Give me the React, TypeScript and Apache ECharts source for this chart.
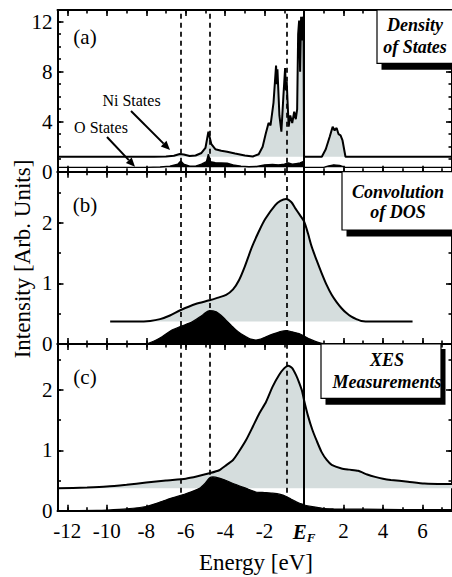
import React, { useEffect, useRef } from 'react';
import * as echarts from 'echarts';

const FONT = 'Liberation Serif';
const GRAY = '#d5dddd';

const X_MIN = -12.5;
const X_MAX = 7.5;

// Panel (a): density of states (Ni offset baseline, O baseline)
const niBase = 1.2;
const niStates: [number, number][] = [
  [-12.5, 1.2], [-7.6, 1.2], [-7.0, 1.22], [-6.6, 1.28], [-6.3, 1.42], [-6.1, 1.38], [-5.8, 1.25],
  [-5.5, 1.3], [-5.2, 1.5], [-5.0, 1.9], [-4.85, 3.2], [-4.7, 2.2], [-4.5, 1.8], [-4.2, 1.68],
  [-3.9, 1.6], [-3.5, 1.45], [-3.0, 1.3], [-2.6, 1.22], [-2.3, 1.4], [-2.1, 2.0], [-1.95, 3.0],
  [-1.8, 3.9], [-1.7, 3.7], [-1.55, 5.5], [-1.42, 8.5], [-1.38, 7.0], [-1.35, 8.2], [-1.25, 4.5], [-1.15, 3.2],
  [-1.05, 6.0], [-0.96, 8.3], [-0.92, 6.5], [-0.88, 7.2], [-0.78, 3.6], [-0.7, 4.5], [-0.6, 3.9], [-0.5, 4.8],
  [-0.42, 4.2], [-0.35, 5.0], [-0.3, 11.0], [-0.25, 12.1], [-0.2, 8.0], [-0.15, 12.4], [-0.1, 10.5], [-0.08, 12.4],
  [-0.03, 12.0], [0.0, 1.2], [0.9, 1.2], [1.1, 1.8], [1.3, 2.8], [1.45, 3.6], [1.55, 3.3],
  [1.65, 3.5], [1.75, 3.0], [1.85, 2.9], [1.95, 2.5], [2.1, 1.2], [7.5, 1.2],
];
const oBase = 0.35;
const oStates: [number, number][] = [
  [-12.5, 0.35], [-8.0, 0.35], [-7.3, 0.38], [-6.8, 0.45], [-6.4, 0.6], [-6.25, 0.85], [-6.1, 0.6],
  [-5.8, 0.45], [-5.5, 0.45], [-5.2, 0.6], [-4.95, 0.8], [-4.85, 1.4], [-4.75, 0.8], [-4.5, 0.72],
  [-4.2, 0.7], [-3.9, 0.68], [-3.6, 0.55], [-3.2, 0.45], [-2.8, 0.4], [-2.4, 0.42], [-2.0, 0.55],
  [-1.6, 0.58], [-1.3, 0.55], [-1.0, 0.6], [-0.8, 0.7], [-0.6, 0.6], [-0.4, 0.65], [-0.2, 0.7],
  [-0.05, 0.8], [0.0, 0.35], [1.0, 0.35], [1.2, 0.45], [1.5, 0.55], [1.8, 0.5], [2.1, 0.35], [7.5, 0.35],
];

// Panel (b): convolution of DOS
const convBase = 0.37;
const convTotal: [number, number][] = [
  [-9.83, 0.37], [-8.5, 0.37], [-7.8, 0.38], [-7.3, 0.41], [-6.8, 0.47], [-6.25, 0.56], [-5.5, 0.66],
  [-4.8, 0.72], [-4.4, 0.76], [-3.95, 0.81], [-3.6, 0.9], [-3.3, 1.05], [-3.0, 1.28], [-2.64, 1.6],
  [-2.3, 1.85], [-1.97, 2.06], [-1.46, 2.29], [-1.2, 2.36], [-0.91, 2.39], [-0.65, 2.34], [-0.45, 2.24],
  [-0.2, 2.12], [0, 2.02], [0.2, 1.82], [0.39, 1.6], [0.65, 1.37], [0.89, 1.17], [1.15, 0.97],
  [1.4, 0.81], [1.65, 0.69], [1.9, 0.59], [2.15, 0.51], [2.4, 0.45], [2.65, 0.41], [2.9, 0.38],
  [3.4, 0.37], [5.5, 0.37],
];
const convO: [number, number][] = [
  [-8.0, 0], [-7.6, 0.05], [-7.2, 0.12], [-6.7, 0.23], [-6.25, 0.29], [-5.65, 0.37], [-5.14, 0.48],
  [-4.8, 0.55], [-4.45, 0.53], [-4.2, 0.47], [-3.95, 0.39], [-3.7, 0.31], [-3.45, 0.23], [-3.2, 0.17],
  [-2.94, 0.12], [-2.7, 0.08], [-2.44, 0.066], [-2.2, 0.08], [-1.93, 0.12], [-1.43, 0.18],
  [-1.15, 0.21], [-0.91, 0.22], [-0.6, 0.2], [-0.25, 0.17], [0, 0.13], [0.3, 0.08], [0.6, 0.04],
  [0.9, 0.01], [1.1, 0],
];

// Panel (c): XES measurements
const xesBase = 0.37;
const xesTotal: [number, number][] = [
  [-12.5, 0.37], [-11, 0.385], [-10, 0.4], [-9, 0.43], [-8, 0.465], [-7, 0.5], [-6, 0.53],
  [-5.4, 0.57], [-4.8, 0.62], [-4.3, 0.67], [-4, 0.74], [-3.6, 0.84], [-3.3, 0.98], [-2.94, 1.17],
  [-2.6, 1.39], [-2.27, 1.61], [-1.93, 1.8], [-1.6, 2.05], [-1.26, 2.25], [-1.0, 2.36], [-0.8, 2.4],
  [-0.6, 2.36], [-0.4, 2.24], [-0.25, 2.12], [-0.1, 1.98], [0, 1.83], [0.2, 1.57], [0.42, 1.34],
  [0.65, 1.15], [0.89, 0.97], [1.15, 0.84], [1.4, 0.76], [1.9, 0.7], [2.3, 0.68], [2.74, 0.66],
  [3.2, 0.6], [3.6, 0.56], [4.0, 0.53], [4.4, 0.51], [5.27, 0.48], [6.1, 0.45], [7.5, 0.44],
];
const xesO: [number, number][] = [
  [-12.5, 0], [-10.5, 0.005], [-10, 0.01], [-9, 0.03], [-8, 0.07], [-7.4, 0.13], [-6.8, 0.2],
  [-6, 0.28], [-5.3, 0.37], [-5.0, 0.46], [-4.8, 0.54], [-4.62, 0.56], [-4.3, 0.54], [-3.95, 0.5],
  [-3.6, 0.45], [-2.94, 0.37], [-2.44, 0.31], [-2.0, 0.3], [-1.6, 0.29], [-1.2, 0.27], [-0.93, 0.24],
  [-0.65, 0.19], [-0.42, 0.15], [-0.2, 0.12], [0, 0.095], [0.42, 0.066], [0.92, 0.04], [1.5, 0.03],
  [3, 0.025], [5, 0.02], [7.5, 0.02],
];

const markerEnergies = [-6.25, -4.8, -0.9];
const fermiEnergy = 0;
const yMax = [12.94, 2.84, 2.76];
const yMajor = [4, 1, 1];
const yMinor = [1, 0.5, 0.5];
const panelLabels = ['(a)', '(b)', '(c)'];
const panelTitles = [['Density', 'of States'], ['Convolution', 'of DOS'], ['XES', 'Measurements']];

const GRID_LEFT = 57.5;
const GRID_WIDTH = 396.6;
const grids = [
  { left: GRID_LEFT, top: 10, width: GRID_WIDTH, height: 161.7 },
  { left: GRID_LEFT, top: 171.7, width: GRID_WIDTH, height: 172.3 },
  { left: GRID_LEFT, top: 344, width: GRID_WIDTH, height: 166.7 },
];

const tickStyle = { color: '#000', width: 1.6 };
const TICK_FONT = 21;

function xLabelFormatter(v: number) {
  if (Math.abs(v - fermiEnergy) < 1e-9) return '{ef|E}{sub|F}';
  if (Math.abs(v % 2) > 1e-9) return '';
  return String(v);
}

function makeXAxes(g: number, labels: boolean) {
  const base = { type: 'value', gridIndex: g, min: X_MIN, max: X_MAX, splitLine: { show: false } };
  const res: any[] = [];
  for (const pos of ['bottom', 'top']) {
    res.push({
      ...base, position: pos, minInterval: 2, maxInterval: 2, splitNumber: 10,
      axisLine: { show: true, onZero: false, lineStyle: { color: '#000', width: 2 } },
      axisTick: { show: true, inside: true, length: 6, lineStyle: tickStyle },
      axisLabel: labels && pos === 'bottom' ? {
        show: true, margin: 10, color: '#000', fontFamily: FONT, fontSize: TICK_FONT,
        showMinLabel: false, showMaxLabel: false,
        formatter: xLabelFormatter,
        rich: {
          ef: { fontFamily: FONT, fontSize: TICK_FONT, fontWeight: 'bold', fontStyle: 'italic', color: '#000' },
          sub: { fontFamily: FONT, fontSize: 13, fontWeight: 'bold', fontStyle: 'italic', color: '#000', verticalAlign: 'bottom', padding: [10, 0, 0, 0] },
        },
      } : { show: false },
    });
    res.push({
      ...base, position: pos, minInterval: 1, maxInterval: 1, splitNumber: 20,
      axisLine: { show: false, onZero: false },
      axisTick: { show: true, inside: true, length: 3.5, lineStyle: tickStyle },
      axisLabel: { show: false },
    });
  }
  return res;
}

function makeYAxes(g: number) {
  const base = { type: 'value', gridIndex: g, min: 0, max: yMax[g], splitLine: { show: false } };
  const res: any[] = [];
  for (const pos of ['left', 'right']) {
    res.push({
      ...base, position: pos, interval: yMajor[g],
      axisLine: { show: true, onZero: false, lineStyle: { color: '#000', width: 2 } },
      axisTick: { show: true, inside: true, length: 6, lineStyle: tickStyle },
      axisLabel: pos === 'left' ? {
        show: true, margin: 5, color: '#000', fontFamily: FONT, fontSize: TICK_FONT, showMaxLabel: false,
        formatter: (v: number) => (Math.abs(v % yMajor[g]) < 1e-9 ? String(v) : ''),
      } : { show: false },
    });
    res.push({
      ...base, position: pos, interval: yMinor[g],
      axisLine: { show: false, onZero: false },
      axisTick: { show: true, inside: true, length: 3.5, lineStyle: tickStyle },
      axisLabel: { show: false },
    });
  }
  return res;
}

const dashedMarks = {
  silent: true, symbol: ['none', 'none'], label: { show: false },
  lineStyle: { color: '#000', width: 1.7, type: [5, 4] },
  data: markerEnergies.map((e) => ({ xAxis: e })),
};
const fermiMark = {
  silent: true, symbol: ['none', 'none'], label: { show: false },
  lineStyle: { color: '#000', width: 2, type: 'solid' },
  data: [{ xAxis: fermiEnergy }],
};

function areaSeries(g: number, data: [number, number][], fill: string, origin: number, width: number, z: number, smooth: number | boolean, mark: any) {
  return {
    type: 'line', xAxisIndex: 4 * g, yAxisIndex: 4 * g, data, showSymbol: false, smooth, z,
    lineStyle: { color: '#000', width }, areaStyle: { color: fill, opacity: 1, origin },
    markLine: mark, emphasis: { disabled: true },
  };
}

function legendBox(x: number, y: number, h: number, lines: string[], cx: number, ys: number[]) {
  return [
    { type: 'rect', z: 100, shape: { x: x + 4.5, y: y + 5, width: 120, height: h + 1.5 }, style: { fill: '#000' } },
    { type: 'rect', z: 101, shape: { x, y, width: 120, height: h }, style: { fill: '#fff', stroke: '#000', lineWidth: 1.2 } },
    ...lines.map((t, i) => ({
      type: 'text', z: 102, x: cx, y: ys[i],
      style: { text: t, fill: '#000', font: `italic bold 18px ${FONT}`, align: 'center', verticalAlign: 'middle' },
    })),
  ];
}

function arrow(x1: number, y1: number, x2: number, y2: number) {
  const dx = x2 - x1, dy = y2 - y1;
  const L = Math.hypot(dx, dy);
  const ux = dx / L, uy = dy / L;
  const bx = x2 - 9 * ux, by = y2 - 9 * uy;
  const px = -uy * 4, py = ux * 4;
  return [
    { type: 'line', z: 100, shape: { x1, y1, x2: bx, y2: by }, style: { stroke: '#000', lineWidth: 2 } },
    { type: 'polygon', z: 100, shape: { points: [[x2, y2], [bx + px, by + py], [bx - px, by - py]] }, style: { fill: '#000' } },
  ];
}

function txt(x: number, y: number, text: string, size: number, extra: any = {}) {
  return {
    type: 'text', z: 100, x, y, ...extra,
    style: { text, fill: '#000', font: `${size}px ${FONT}`, align: 'center', verticalAlign: 'middle' },
  };
}

export default function App() {
  const ref = useRef<HTMLDivElement>(null);
  useEffect(() => {
    if (!ref.current) return;
    const chart = echarts.init(ref.current, undefined, { renderer: 'svg' });
    const option: any = {
      animation: false,
      backgroundColor: '#fff',
      grid: grids.map((g) => ({ ...g, containLabel: false })),
      xAxis: [...makeXAxes(0, false), ...makeXAxes(1, false), ...makeXAxes(2, true)],
      yAxis: [...makeYAxes(0), ...makeYAxes(1), ...makeYAxes(2)],
      series: [
        areaSeries(0, niStates, GRAY, niBase, 2, 2, false, dashedMarks),
        areaSeries(0, oStates, '#000', oBase, 1.4, 4, false, fermiMark),
        areaSeries(1, convTotal, GRAY, convBase, 2, 2, 0.3, dashedMarks),
        areaSeries(1, convO, '#000', 0, 1.2, 4, 0.3, fermiMark),
        areaSeries(2, xesTotal, GRAY, xesBase, 2, 2, 0.2, dashedMarks),
        areaSeries(2, xesO, '#000', 0, 1.2, 4, 0.2, fermiMark),
      ],
      graphic: [
        ...panelLabels.map((t, i) => txt(85, [37, 205, 377][i], t, 21)),
        txt(131.5, 100, 'Ni States', 16),
        txt(101, 127, 'O States', 16),
        ...arrow(131, 111, 170, 150),
        ...arrow(107, 137, 135, 166.7),
        ...legendBox(377, 10, 53.3, panelTitles[0], 415, [25, 47]),
        ...legendBox(342, 171.7, 58.3, panelTitles[1], 398, [191.7, 212]),
        ...legendBox(321, 344, 54.3, panelTitles[2], 387, [360, 381.7]),
        txt(256, 562, 'Energy [eV]', 23),
        txt(22, 259, 'Intensity [Arb. Units]', 23, { rotation: Math.PI / 2 }),
      ],
    };
    chart.setOption(option);
    return () => chart.dispose();
  }, []);
  return <div ref={ref} style={{ position: 'absolute', left: 0, top: 0, width: 452, height: 577 }} />;
}
